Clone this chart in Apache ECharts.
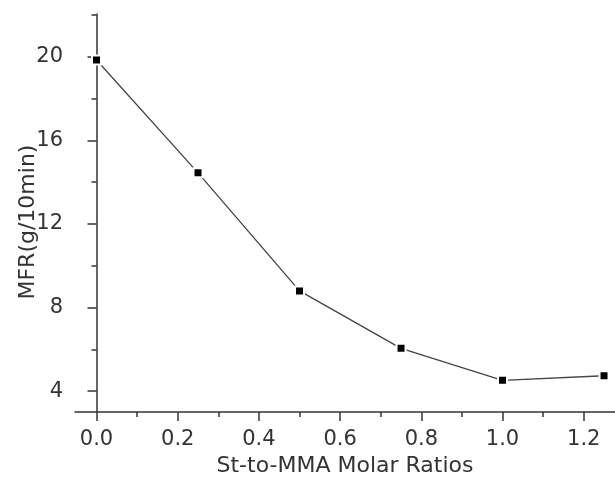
<!DOCTYPE html>
<html>
<head>
<meta charset="utf-8">
<script src="https://cdn.jsdelivr.net/npm/echarts@6/dist/echarts.min.js"></script>
<style>html,body{margin:0;padding:0;background:#fff}#c{width:615px;height:482px}</style>
</head>
<body>
<div id="c"></div>
<script>
const ratios = [0, 0.25, 0.5, 0.75, 1.0, 1.25];
const mfr = [19.85, 14.45, 8.8, 6.05, 4.52, 4.74];
const xMajorTicks = [0, 0.2, 0.4, 0.6, 0.8, 1.0, 1.2];
const xMinorTicks = [0.1, 0.3, 0.5, 0.7, 0.9, 1.1];
const yMajorTicks = [4, 8, 12, 16, 20];
const yMinorTicks = [6, 10, 14, 18, 22];
const xName = 'St-to-MMA Molar Ratios';
const yName = 'MFR(g/10min)';

const chart = echarts.init(document.getElementById('c'), null, {renderer: 'canvas'});
const font = 'DejaVu Sans';
const txt = '#333';
const axisCol = '#333';
const xr = {min: -0.053, max: 1.277};
const yr = {min: 3, max: 22.05};
chart.setOption({
  animation: false,
  backgroundColor: '#fff',
  grid: {left: 75, top: 14, right: 0, bottom: 61, containLabel: false},
  xAxis: [{
    type: 'value', min: xr.min, max: xr.max, position: 'bottom',
    name: xName, nameLocation: 'middle', nameGap: 38,
    nameTextStyle: {fontFamily: font, fontSize: 22, color: txt},
    axisLine: {show: true, lineStyle: {color: axisCol, width: 1.5}},
    axisTick: {show: true, inside: false, length: 9, customValues: xMajorTicks, lineStyle: {color: axisCol, width: 1.5}},
    axisLabel: {show: true, customValues: xMajorTicks, margin: 17, fontFamily: font, fontSize: 21, color: txt,
      formatter: v => v.toFixed(1)},
    splitLine: {show: false}
  }, {
    type: 'value', min: xr.min, max: xr.max, position: 'bottom',
    axisLine: {show: false},
    axisTick: {show: true, inside: false, length: 5, customValues: xMinorTicks, lineStyle: {color: axisCol, width: 1.5}},
    axisLabel: {show: false},
    splitLine: {show: false}
  }],
  yAxis: [{
    type: 'value', min: yr.min, max: yr.max, position: 'left',
    name: yName, nameLocation: 'middle', nameGap: 36, nameMoveOverlap: false,
    nameTextStyle: {fontFamily: font, fontSize: 22, color: txt, padding: [0, 18, 0, 0]},
    axisLine: {show: true, lineStyle: {color: axisCol, width: 1.5}},
    axisTick: {show: true, inside: false, length: 9, customValues: yMajorTicks, lineStyle: {color: axisCol, width: 1.5}},
    axisLabel: {show: true, customValues: yMajorTicks, margin: 12, fontFamily: font, fontSize: 21, color: txt},
    splitLine: {show: false}
  }, {
    type: 'value', min: yr.min, max: yr.max, position: 'left',
    axisLine: {show: false},
    axisTick: {show: true, inside: false, length: 5, customValues: yMinorTicks, lineStyle: {color: axisCol, width: 1.5}},
    axisLabel: {show: false},
    splitLine: {show: false}
  }],
  series: [{
    type: 'line',
    data: ratios.map((x, i) => [x, mfr[i]]),
    symbol: 'rect', symbolSize: 9,
    itemStyle: {color: '#000', borderColor: '#fff', borderWidth: 2},
    lineStyle: {color: '#444', width: 1.3},
    z: 5
  }]
});
</script>
</body>
</html>
